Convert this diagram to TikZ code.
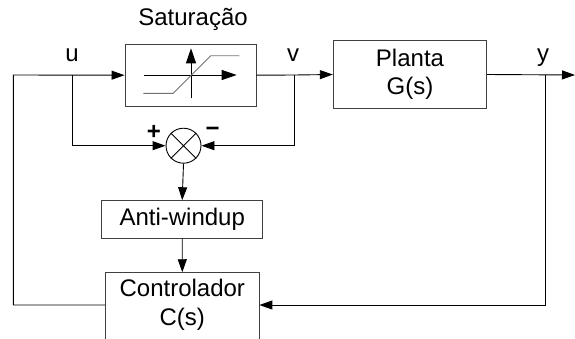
\documentclass[tikz,border=0pt]{standalone}
\usepackage{fontspec}
\setmainfont{Liberation Sans}
\usetikzlibrary{arrows.meta}
\begin{document}
\begin{tikzpicture}[x=1pt,y=-1pt,
  font=\fontsize{24}{28.5}\selectfont,
  line width=0.9pt,
  box/.style={draw=black!75, rectangle, inner sep=0pt, align=center},
  arr/.style={-{Triangle[length=13pt,width=9pt]}},
  bigarr/.style={-{Triangle[length=15pt,width=10pt]}},
  lbl/.style={anchor=base, inner sep=0pt}
]
\useasboundingbox (0,0) rectangle (575,338);
\clip (0,0) rectangle (575,338);

% blocks
\node[box, minimum width=131pt, minimum height=61.7pt] (sat) at (190.5,75.2) {};
\node[box, minimum width=153.4pt, minimum height=67.6pt] (plant) at (410,74.5) {Planta\\G(s)};
\node[draw, circle, minimum size=35pt, inner sep=0pt] (sum) at (183.5,145.7) {};
\node[box, minimum width=161pt, minimum height=37.6pt] (aw) at (182.2,219.5) {Anti-windup};
\node[inner sep=0pt, align=center, minimum width=153.3pt, minimum height=64.6pt] (ctrl) at (182.3,305) {Controlador\\C(s)};
\draw[black!75] ([yshift=-20pt]ctrl.south west) -- (ctrl.north west) -- (ctrl.north east) -- ([yshift=-20pt]ctrl.south east);

% saturation symbol
\draw[bigarr] (144,75) -- (236.7,75);
\draw[bigarr] (191,98.3) -- (191,48.3);
\draw[black!55] (143.3,93.3) -- (173.3,93.3) -- (210.7,55.7) -- (239.3,55.7);

% summing junction cross
\draw (sum.north west) -- (sum.south east) (sum.north east) -- (sum.south west);

% labels
\node[lbl] (lsat) at (193,25.5) {Saturação};
\node[lbl] (lu) at (72,61.5) {u};
\node[lbl] (lv) at (293,61.5) {v};
\node[lbl] (ly) at (543,61.5) {y};
\node (plus) at (154,132) {\textbf{+}};
\node (minus) at (212.7,132) {\textbf{−}};

% junction points
\coordinate (lft) at (13.3,75);
\coordinate (ujn) at (72,75);
\coordinate (vjn) at (294,75);
\coordinate (yjn) at (545.7,75);
\coordinate (out) at (575,75);

% connectors
\draw[arr] (ctrl.west) -- (lft |- ctrl.west) -- (lft) -- (sat.west);
\draw[arr] (ujn) |- (sum.west);
\draw (sat.east) -- (vjn);
\draw[arr] (vjn) -- (plant.west);
\draw[arr] (vjn) |- (sum.east);
\draw[arr] (plant.east) -- (out);
\draw[arr] (yjn) |- (ctrl.east);
\draw[arr] (sum.south) -- (aw.north);
\draw[arr] (aw.south) -- (ctrl.north);
\end{tikzpicture}
\end{document}
